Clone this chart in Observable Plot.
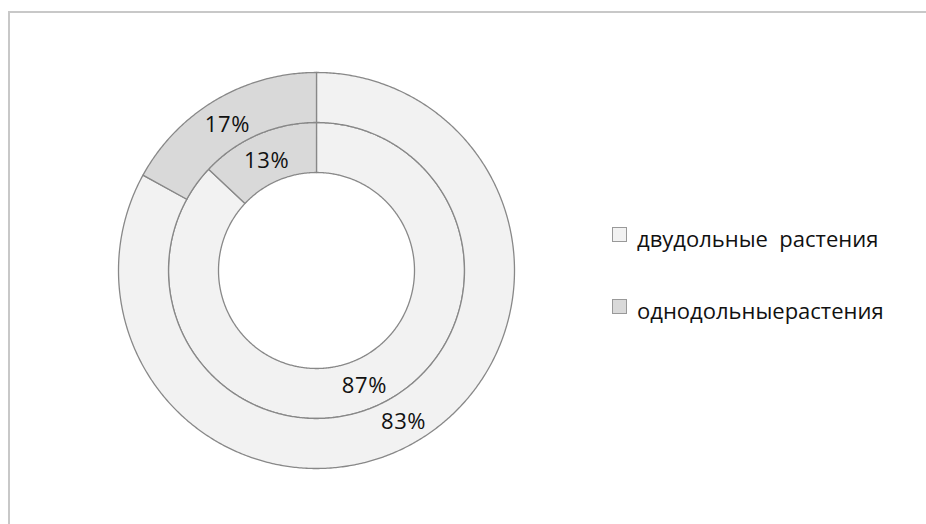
<!DOCTYPE html>
<html>
<head>
<meta charset="utf-8">
<script src="https://cdn.jsdelivr.net/npm/d3@7"></script>
<script src="https://cdn.jsdelivr.net/npm/@observablehq/plot@0.6"></script>
<style>
  html, body { margin: 0; padding: 0; background: #fff; }
  #wrap { position: relative; width: 926px; height: 524px; overflow: hidden; font-family: "Open Sans", sans-serif; }
  #frame { position: absolute; left: 8px; top: 11px; width: 940px; height: 540px; border-left: 2px solid #c8c8c8; border-top: 2px solid #c8c8c8; box-sizing: border-box; }
  #chart { position: absolute; left: 0; top: 0; }
  #legend { position: absolute; left: 0; top: 0; }
</style>
</head>
<body>
<div id="wrap">
  <div id="frame"></div>
  <div id="chart"></div>
  <svg id="legend" width="926" height="524"></svg>
</div>
<script>
// ---- data ----
const categories = ["двудольные растения", "однодольныерастения"];
const legendLabels = ["двудольные  растения", "однодольныерастения"];
const rings = ["inner", "outer"];
const innerValues = [87, 13];
const outerValues = [83, 17];
const colors = ["#f2f2f2", "#d9d9d9"];

// ---- geometry (unit = outer radius) ----
const radii = { inner: [98 / 198, 148 / 198], outer: [148 / 198, 1] };
const valuesByRing = { inner: innerValues, outer: outerValues };

const polys = [];
const labels = [];
for (const ring of rings) {
  const vals = valuesByRing[ring];
  const total = d3.sum(vals);
  const [r0, r1] = radii[ring];
  let acc = 0;
  vals.forEach((v, i) => {
    const a0 = (acc / total) * 2 * Math.PI;
    const a1 = ((acc + v) / total) * 2 * Math.PI;
    acc += v;
    const key = ring + "-" + i;
    const n = Math.max(2, Math.ceil((a1 - a0) / (Math.PI / 360)));
    for (let k = 0; k <= n; k++) {
      const a = a0 + (a1 - a0) * k / n;
      polys.push({ key, category: categories[i], x: r1 * Math.sin(a), y: r1 * Math.cos(a) });
    }
    for (let k = n; k >= 0; k--) {
      const a = a0 + (a1 - a0) * k / n;
      polys.push({ key, category: categories[i], x: r0 * Math.sin(a), y: r0 * Math.cos(a) });
    }
    const am = (a0 + a1) / 2, rm = (r0 + r1) / 2;
    labels.push({ text: v + "%", x: rm * Math.sin(am), y: rm * Math.cos(am) });
  });
}

const plot = Plot.plot({
  width: 926,
  height: 524,
  marginLeft: 118,
  marginRight: 412,
  marginTop: 72,
  marginBottom: 56,
  x: { domain: [-1, 1], axis: null },
  y: { domain: [-1, 1], axis: null },
  color: { domain: categories, range: colors },
  style: { background: "transparent", fontFamily: "Open Sans, sans-serif" },
  marks: [
    Plot.line(polys, {
      x: "x", y: "y", z: "key", fill: "category",
      stroke: "#888888", strokeWidth: 1.3, curve: "linear-closed"
    }),
    Plot.text(labels, {
      x: "x", y: "y", text: "text",
      fontSize: 22, fill: "#111", dy: 3, dx: -1,
      style: "letter-spacing: 0.6px"
    })
  ]
});
plot.querySelectorAll("text").forEach(t => t.style.letterSpacing = "0.6px");
document.getElementById("chart").appendChild(plot);

// ---- legend ----
const lg = d3.select("#legend");
const items = [
  { label: legendLabels[0], color: colors[0], boxY: 227, baseY: 247 },
  { label: legendLabels[1], color: colors[1], boxY: 299, baseY: 319 }
];
items.forEach(it => {
  lg.append("rect").attr("x", 612.5).attr("y", it.boxY + 0.5).attr("width", 14).attr("height", 14)
    .attr("fill", it.color).attr("stroke", "#999").attr("stroke-width", 1);
  lg.append("text").attr("x", 637).attr("y", it.baseY)
    .attr("font-family", "Open Sans, sans-serif").attr("font-size", 22).attr("fill", "#111")
    .attr("xml:space", "preserve").style("white-space", "pre")
    .text(it.label);
});
</script>
</body>
</html>
